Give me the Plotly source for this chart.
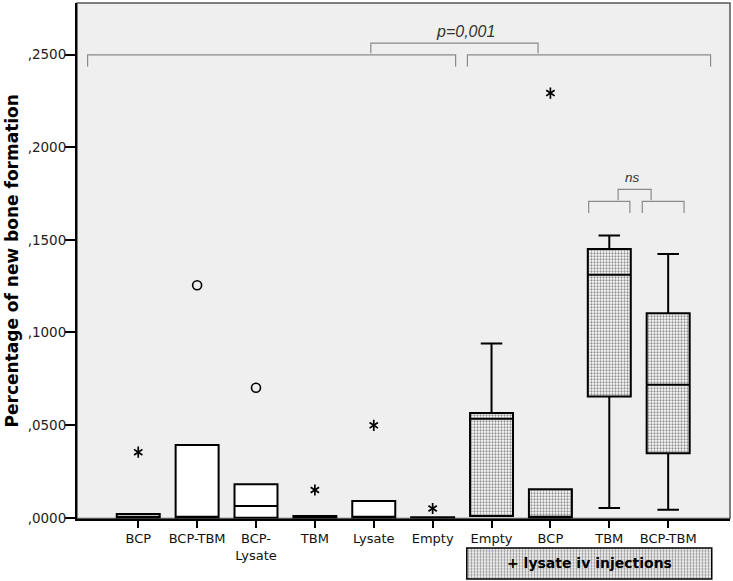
"""Box plot of new bone formation per implant group (with / without lysate iv injections)."""

import plotly.graph_objects as go

# ---- data -----------------------------------------------------------------
groups = ["BCP", "BCP-TBM", "BCP-<br>Lysate", "TBM", "Lysate", "Empty",
          "Empty", "BCP", "TBM", "BCP-TBM"]
group_pos = list(range(len(groups)))

# without lysate injections (white boxes)
plain_pos = [0, 1, 2, 3, 4, 5]
plain_q1 = [0.0, 0.0, 0.0, 0.0, 0.0, 0.0]
plain_median = [0.0, 0.0, 0.0064, 0.0, 0.0, 0.0]
plain_q3 = [0.0021, 0.0393, 0.0181, 0.001, 0.0091, 0.0003]
plain_low = [0.0, 0.0, 0.0, 0.0, 0.0, 0.0]
plain_high = [0.0021, 0.0393, 0.0181, 0.001, 0.0091, 0.0003]

# + lysate iv injections (dotted boxes)
lys_pos = [6, 7, 8, 9]
lys_q1 = [0.001, 0.0, 0.0654, 0.0348]
lys_median = [0.0535, 0.0, 0.1312, 0.0718]
lys_q3 = [0.0565, 0.0154, 0.1451, 0.1104]
lys_low = [0.001, 0.0, 0.0053, 0.0043]
lys_high = [0.094, 0.0154, 0.1523, 0.1424]

# outliers
circle_pos = [1, 2]
circle_val = [0.1255, 0.0702]
star_pos = [0, 3, 4, 5, 7]
star_val = [0.0354, 0.0150, 0.0499, 0.0050, 0.2292]

ytick_vals = [0.0, 0.05, 0.10, 0.15, 0.20, 0.25]
ytick_text = [",0000", ",0500", ",1000", ",1500", ",2000", ",2500"]

# significance brackets: (x start, x end, y level, drop)
brackets = [
    (-0.86, 5.39, 0.2498, 0.0063),
    (5.59, 9.72, 0.2498, 0.0063),
    (3.95, 6.79, 0.2561, 0.0054),
    (7.65, 8.35, 0.1708, 0.0063),
    (8.56, 9.27, 0.1708, 0.0063),
    (8.15, 8.71, 0.1772, 0.0059),
]

BOX_W = 0.73
X_RANGE = [-1.04, 10.05]
DOTS = dict(shape=".", size=3, solidity=0.45, fgcolor="#222222", bgcolor="white")

fig = go.Figure()

# dotted fill of the lysate boxes
fig.add_trace(go.Bar(
    x=lys_pos,
    y=[hi - lo for hi, lo in zip(lys_q3, lys_q1)],
    base=lys_q1,
    width=BOX_W,
    marker=dict(color="white", line=dict(width=0), pattern=DOTS),
    hoverinfo="skip",
    showlegend=False,
))

fig.add_trace(go.Box(
    x=plain_pos, q1=plain_q1, median=plain_median, q3=plain_q3,
    lowerfence=plain_low, upperfence=plain_high,
    width=BOX_W, whiskerwidth=0.5, boxpoints=False,
    fillcolor="white", line=dict(color="black", width=2),
    showlegend=False,
))

fig.add_trace(go.Box(
    x=lys_pos, q1=lys_q1, median=lys_median, q3=lys_q3,
    lowerfence=lys_low, upperfence=lys_high,
    width=BOX_W, whiskerwidth=0.5, boxpoints=False,
    fillcolor="rgba(0,0,0,0)", line=dict(color="black", width=2),
    showlegend=False,
))

fig.add_trace(go.Scatter(
    x=circle_pos, y=circle_val, mode="markers",
    marker=dict(symbol="circle-open", size=9, color="black",
                line=dict(width=1.6)),
    showlegend=False,
))

# six-armed asterisks
for sym in ("y-up-open", "y-down-open"):
    fig.add_trace(go.Scatter(
        x=star_pos, y=star_val, mode="markers",
        marker=dict(symbol=sym, size=7, color="black",
                    line=dict(width=1.7, color="black")),
        showlegend=False,
    ))

# "+ lysate iv injections" label box
fig.add_trace(go.Bar(
    x=[7.66], y=[1], base=[0], width=[4.16],
    xaxis="x2", yaxis="y2",
    marker=dict(color="white", line=dict(color="black", width=1.5),
                pattern=DOTS),
    hoverinfo="skip",
    showlegend=False,
))

shapes = [
    dict(type="rect", xref="x domain", yref="y domain",
         x0=0, x1=1, y0=0, y1=1, fillcolor="#efefef",
         line=dict(color="#555555", width=1.5), layer="below"),
]
for x0, x1, yy, drop in brackets:
    shapes.append(dict(
        type="path", xref="x", yref="y",
        path=f"M {x0},{yy - drop} L {x0},{yy} L {x1},{yy} L {x1},{yy - drop}",
        line=dict(color="#8a8a8a", width=1.2),
    ))

annotations = [
    dict(text="p=0,001", x=5.56, y=0.2625, xref="x", yref="y",
         showarrow=False,
         font=dict(family="Liberation Sans", size=16, color="#333333",
                   style="italic")),
    dict(text="ns", x=8.40, y=0.1834, xref="x", yref="y",
         showarrow=False,
         font=dict(family="Liberation Sans", size=13.5, color="#333333",
                   style="italic")),
    dict(text="<b>+ lysate iv injections</b>", x=7.66, y=0.5,
         xref="x2", yref="y2", showarrow=False,
         font=dict(family="DejaVu Sans", size=14, color="black")),
    dict(text="<b>Percentage of new bone formation</b>", textangle=-90,
         x=-0.1, y=0.5, xref="paper", yref="y domain",
         xanchor="center", yanchor="middle", showarrow=False,
         font=dict(family="DejaVu Sans", size=17, color="black")),
]

fig.update_layout(
    width=733,
    height=581,
    margin=dict(l=77, r=3, t=3, b=0),
    paper_bgcolor="white",
    plot_bgcolor="rgba(0,0,0,0)",
    boxmode="overlay",
    barmode="overlay",
    showlegend=False,
    font=dict(family="DejaVu Sans", color="black"),
    shapes=shapes,
    annotations=annotations,
    xaxis=dict(
        range=X_RANGE,
        domain=[0, 1],
        tickvals=group_pos,
        ticktext=groups,
        ticks="outside", ticklen=7, tickwidth=2, tickcolor="black",
        showline=True, linecolor="black", linewidth=2,
        showgrid=False, zeroline=False,
        tickfont=dict(size=13, color="#111111"),
        automargin=False,
        anchor="y",
    ),
    yaxis=dict(
        range=[-0.0004, 0.2778],
        domain=[0.1081, 1],
        tickvals=ytick_vals,
        ticktext=ytick_text,
        ticks="outside", ticklen=10, tickwidth=2, tickcolor="black",
        ticklabelstandoff=-4,
        showline=True, linecolor="black", linewidth=2,
        showgrid=False, zeroline=False,
        tickfont=dict(size=13.5, color="#222222"),
        automargin=False,
    ),
    xaxis2=dict(range=X_RANGE, domain=[0, 1], anchor="y2", visible=False),
    yaxis2=dict(range=[-0.05, 1.05], domain=[0.0009, 0.0597], anchor="x2",
                visible=False),
)

# the page body has a default 8px margin; drop it so the figure sits at 0,0
fig.write_html("out.html", config={"displayModeBar": False},
               post_script="document.body.style.margin = '0';")
